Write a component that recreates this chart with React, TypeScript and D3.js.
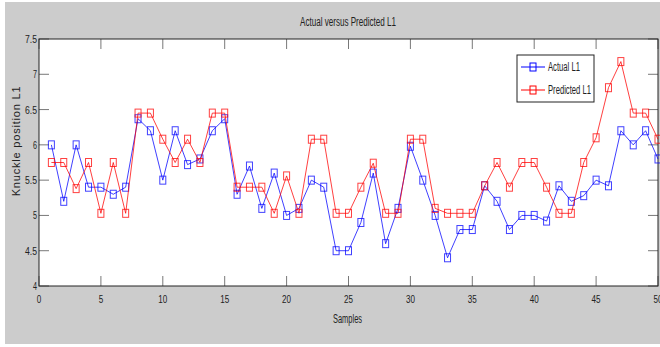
import React from "react";
import * as d3 from "d3";

const W = 660;
const H = 347;

const samples = d3.range(1, 51);
const actualL1 = [
  6.0, 5.2, 6.0, 5.4, 5.4, 5.3, 5.4, 6.37, 6.2, 5.5,
  6.2, 5.72, 5.8, 6.2, 6.37, 5.3, 5.7, 5.1, 5.6, 5.0,
  5.1, 5.5, 5.4, 4.5, 4.5, 4.9, 5.6, 4.6, 5.1, 5.98,
  5.5, 5.0, 4.4, 4.8, 4.8, 5.42, 5.2, 4.8, 5.0, 5.0,
  4.92, 5.42, 5.2, 5.28, 5.5, 5.42, 6.2, 6.0, 6.2, 5.8,
];
const predictedL1 = [
  5.75, 5.75, 5.38, 5.75, 5.03, 5.75, 5.03, 6.45, 6.45, 6.08,
  5.75, 6.08, 5.75, 6.45, 6.45, 5.4, 5.4, 5.4, 5.03, 5.56,
  5.03, 6.08, 6.08, 5.03, 5.03, 5.4, 5.74, 5.03, 5.03, 6.08,
  6.08, 5.1, 5.03, 5.03, 5.03, 5.42, 5.75, 5.4, 5.75, 5.75,
  5.4, 5.03, 5.03, 5.75, 6.1, 6.81, 7.18, 6.45, 6.45, 6.08,
];
const xTicks = [0, 5, 10, 15, 20, 25, 30, 35, 40, 45, 50];
const yTicks = [4, 4.5, 5, 5.5, 6, 6.5, 7, 7.5];

const series = [
  { name: "Actual L1", values: actualL1, color: "#0000ff", labelWidth: 32 },
  { name: "Predicted L1", values: predictedL1, color: "#ff0000", labelWidth: 43 },
];

// matlab's figure text is very narrow, squeeze it with textLength
const FONT = "'Liberation Sans', Arial, sans-serif";

const App = () => {
  const left = 39, right = 658, top = 39, bottom = 286;
  const x = d3.scaleLinear().domain([0, 50]).range([left, right]);
  const y = d3.scaleLinear().domain([4, 7.5]).range([bottom, top]);
  const line = d3
    .line<number>()
    .x((_, i) => x(samples[i]))
    .y((d) => y(d));
  const tickLen = 10;

  return (
    <div style={{ position: "fixed", left: 0, top: 0 }}>
      <svg width={W} height={H} style={{ display: "block" }}>
        <rect x={0} y={0} width={W} height={H} fill="#ffffff" />
        <rect x={5} y={2} width={W - 5} height={342} fill="#cccccc" />
        <rect x={left} y={top} width={right - left} height={bottom - top} fill="#ffffff" />

        {/* ticks */}
        <g stroke="#555" strokeWidth={0.8}>
          {xTicks.map((t) => (
            <g key={"x" + t}>
              <line x1={x(t)} x2={x(t)} y1={bottom} y2={bottom - tickLen} />
              <line x1={x(t)} x2={x(t)} y1={top} y2={top + tickLen} />
            </g>
          ))}
          {yTicks.map((t) => (
            <g key={"y" + t}>
              <line x1={left} x2={left + tickLen} y1={y(t)} y2={y(t)} />
              <line x1={right} x2={right - tickLen} y1={y(t)} y2={y(t)} />
            </g>
          ))}
        </g>
        <rect x={left} y={top} width={right - left} height={bottom - top} fill="none" stroke="#222" strokeWidth={1} />

        {/* tick labels */}
        <g fontFamily={FONT} fontSize={11} fill="#222">
          {xTicks.map((t) => (
            <text
              key={"xl" + t}
              x={x(t)}
              y={bottom + 17}
              textAnchor="middle"
              textLength={String(t).length * 4.5}
              lengthAdjust="spacingAndGlyphs"
            >
              {t}
            </text>
          ))}
          {yTicks.map((t) => (
            <text
              key={"yl" + t}
              x={left - 2}
              y={y(t) + 4}
              textAnchor="end"
              textLength={String(t).length * 4}
              lengthAdjust="spacingAndGlyphs"
            >
              {t}
            </text>
          ))}
        </g>

        {/* series */}
        {series.map((s) => (
          <g key={s.name}>
            <path d={line(s.values) || ""} fill="none" stroke={s.color} strokeWidth={1} strokeOpacity={0.75} />
            {s.values.map((v, i) => (
              <rect
                key={i}
                x={x(samples[i]) - 3}
                y={y(v) - 4}
                width={6}
                height={8}
                fill="none"
                stroke={s.color}
                strokeWidth={1}
                strokeOpacity={0.75}
              />
            ))}
          </g>
        ))}

        {/* legend */}
        <g>
          <rect x={517} y={55} width={77} height={47} fill="#ffffff" stroke="#222" strokeWidth={1} />
          {series.map((s, i) => {
            const ly = 67 + i * 23;
            return (
              <g key={"lg" + s.name}>
                <line x1={521} x2={545} y1={ly} y2={ly} stroke={s.color} strokeWidth={1} />
                <rect x={530} y={ly - 4} width={6} height={8} fill="none" stroke={s.color} strokeWidth={1} />
                <text
                  x={548}
                  y={ly + 4}
                  fontFamily={FONT}
                  fontSize={12}
                  fill="#222"
                  textLength={s.labelWidth}
                  lengthAdjust="spacingAndGlyphs"
                >
                  {s.name}
                </text>
              </g>
            );
          })}
        </g>

        {/* titles */}
        <text
          x={300}
          y={26}
          fontFamily={FONT}
          fontSize={12}
          fill="#222"
          textLength={96}
          lengthAdjust="spacingAndGlyphs"
        >
          Actual versus Predicted L1
        </text>
        <text
          x={333}
          y={323}
          fontFamily={FONT}
          fontSize={12}
          fill="#222"
          textLength={29}
          lengthAdjust="spacingAndGlyphs"
        >
          Samples
        </text>
        <text
          transform="translate(20,141) rotate(-90)"
          textAnchor="middle"
          fontFamily={FONT}
          fontSize={11}
          letterSpacing={0.8}
          fill="#222"
        >
          Knuckle position L1
        </text>
      </svg>
    </div>
  );
};

export default App;
